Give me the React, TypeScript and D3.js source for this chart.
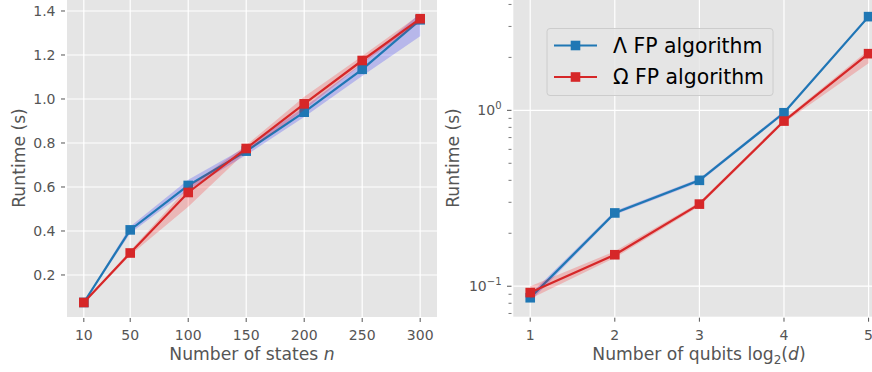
import React from "react";
import * as d3 from "d3";

const statesN = [10, 50, 100, 150, 200, 250, 300];
const lambdaStates = [0.075, 0.405, 0.607, 0.763, 0.94, 1.135, 1.36];
const lambdaStatesLo = [0.07, 0.39, 0.588, 0.745, 0.918, 1.105, 1.285];
const lambdaStatesHi = [0.08, 0.42, 0.633, 0.782, 0.963, 1.163, 1.39];
const omegaStates = [0.075, 0.3, 0.575, 0.775, 0.978, 1.175, 1.365];
const omegaStatesLo = [0.07, 0.29, 0.51, 0.76, 0.95, 1.16, 1.35];
const omegaStatesHi = [0.08, 0.31, 0.6, 0.79, 1.01, 1.195, 1.385];

const qubits = [1, 2, 3, 4, 5];
const lambdaQubits = [0.086, 0.261, 0.4, 0.969, 3.41];
const lambdaQubitsLo = [0.082, 0.255, 0.39, 0.95, 3.35];
const lambdaQubitsHi = [0.09, 0.268, 0.41, 0.99, 3.48];
const omegaQubits = [0.092, 0.151, 0.293, 0.869, 2.1];
const omegaQubitsLo = [0.085, 0.145, 0.285, 0.85, 1.85];
const omegaQubitsHi = [0.1, 0.158, 0.3, 0.89, 2.2];

const leftXTicks = [10, 50, 100, 150, 200, 250, 300];
const leftYTicks = [0.2, 0.4, 0.6, 0.8, 1.0, 1.2, 1.4];
const rightXTicks = [1, 2, 3, 4, 5];
const rightYMajor = [0.1, 1];
const seriesNames = ["Λ FP algorithm", "Ω FP algorithm"];

const BLUE = "#1f77b4";
const RED = "#d62728";
const BG = "#E5E5E5";
const TICK = "#555555";
const FONT = "DejaVu Sans";

type Sc = (v: number) => number;

function Series({ xs, ys, lo, hi, x, y, color, band }: { xs: number[]; ys: number[]; lo: number[]; hi: number[]; x: Sc; y: Sc; color: string; band: string }) {
  const area = d3
    .area<number>()
    .x((_, i) => x(xs[i]))
    .y0((_, i) => y(lo[i]))
    .y1((_, i) => y(hi[i]));
  const line = d3
    .line<number>()
    .x((_, i) => x(xs[i]))
    .y((d) => y(d));
  return (
    <g>
      <path d={area(ys) || ""} fill={band} />
      <path d={line(ys) || ""} fill="none" stroke={color} strokeWidth={2.2} />
      {ys.map((v, i) => (
        <rect key={i} x={x(xs[i]) - 4.8} y={y(v) - 4.8} width={9.6} height={9.6} fill={color} />
      ))}
    </g>
  );
}

export default function App() {
  const lx = d3.scaleLinear().domain([-4.5, 314.5]).range([67, 437]);
  const ly = d3.scaleLinear().domain([0.009, 1.45]).range([317, 0]);
  const rx = d3.scaleLinear().domain([0.8, 5.2]).range([513.3, 885.5]);
  const ry = d3.scaleLog().domain([0.0671, 4.24]).range([316.7, 0]);

  const minor: number[] = [];
  [0.01, 0.1, 1].forEach((dec) => {
    for (let k = 2; k <= 9; k++) {
      const v = dec * k;
      if (v >= 0.0671 && v <= 4.24) minor.push(v);
    }
  });

  const bot = 317;
  return (
    <svg width={872} height={372} style={{ position: "absolute", left: 0, top: 0, background: "white" }} fontFamily={FONT}>
      {/* LEFT PANEL */}
      <rect x={67} y={0} width={370} height={bot} fill={BG} />
      {leftXTicks.map((t) => (
        <line key={"lxg" + t} x1={lx(t)} x2={lx(t)} y1={0} y2={bot} stroke="white" strokeWidth={1.2} />
      ))}
      {leftYTicks.map((t) => (
        <line key={"lyg" + t} x1={67} x2={437} y1={ly(t)} y2={ly(t)} stroke="white" strokeWidth={1.2} />
      ))}
      <Series xs={statesN} ys={lambdaStates} lo={lambdaStatesLo} hi={lambdaStatesHi} x={lx} y={ly} color={BLUE} band="rgba(0,0,255,0.2)" />
      <Series xs={statesN} ys={omegaStates} lo={omegaStatesLo} hi={omegaStatesHi} x={lx} y={ly} color={RED} band="rgba(255,0,0,0.2)" />
      {leftXTicks.map((t) => (
        <g key={"lxt" + t}>
          <line x1={lx(t)} x2={lx(t)} y1={bot + 1} y2={bot + 5} stroke={TICK} strokeWidth={1} />
          <text x={lx(t)} y={339.5} textAnchor="middle" fontSize={14} fill={TICK}>{t}</text>
        </g>
      ))}
      {leftYTicks.map((t) => (
        <g key={"lyt" + t}>
          <line x1={61} x2={65} y1={ly(t)} y2={ly(t)} stroke={TICK} strokeWidth={1} />
          <text x={55.5} y={ly(t) + 5} textAnchor="end" fontSize={14} fill={TICK}>{t.toFixed(1)}</text>
        </g>
      ))}
      <text x={252} y={360} textAnchor="middle" fontSize={17.2} fill={TICK}>
        Number of states <tspan fontStyle="italic">n</tspan>
      </text>
      <text transform={`translate(24.5,158) rotate(-90)`} textAnchor="middle" fontSize={17.2} fill={TICK}>Runtime (s)</text>

      {/* RIGHT PANEL */}
      <rect x={513.3} y={0} width={372.2} height={316.7} fill={BG} />
      {rightXTicks.map((t) => (
        <line key={"rxg" + t} x1={rx(t)} x2={rx(t)} y1={0} y2={316.7} stroke="white" strokeWidth={1.2} />
      ))}
      {rightYMajor.map((t) => (
        <line key={"ryg" + t} x1={513.3} x2={885.5} y1={ry(t)} y2={ry(t)} stroke="white" strokeWidth={1.2} />
      ))}
      <Series xs={qubits} ys={lambdaQubits} lo={lambdaQubitsLo} hi={lambdaQubitsHi} x={rx} y={ry} color={BLUE} band="rgba(0,0,255,0.2)" />
      <Series xs={qubits} ys={omegaQubits} lo={omegaQubitsLo} hi={omegaQubitsHi} x={rx} y={ry} color={RED} band="rgba(255,0,0,0.2)" />
      {rightXTicks.map((t) => (
        <g key={"rxt" + t}>
          <line x1={rx(t)} x2={rx(t)} y1={317.7} y2={321.7} stroke={TICK} strokeWidth={1} />
          <text x={rx(t)} y={339.5} textAnchor="middle" fontSize={14} fill={TICK}>{t}</text>
        </g>
      ))}
      {minor.map((t) => (
        <line key={"rmn" + t} x1={508.5} x2={511.5} y1={ry(t)} y2={ry(t)} stroke={TICK} strokeWidth={0.8} />
      ))}
      {rightYMajor.map((t) => (
        <g key={"ryt" + t}>
          <line x1={507} x2={511.5} y1={ry(t)} y2={ry(t)} stroke={TICK} strokeWidth={1} />
          <text x={501.5} y={ry(t) + 5} textAnchor="end" fontSize={14} fill={TICK}>
            10<tspan dy={-6} fontSize={10}>{t === 1 ? "0" : "−1"}</tspan>
          </text>
        </g>
      ))}
      <text x={699} y={360} textAnchor="middle" fontSize={17.2} fill={TICK}>
        Number of qubits log<tspan dy={4} fontSize={12}>2</tspan><tspan dy={-4}>(</tspan><tspan fontStyle="italic">d</tspan>)
      </text>
      <text transform={`translate(459,158) rotate(-90)`} textAnchor="middle" fontSize={17.2} fill={TICK}>Runtime (s)</text>

      {/* LEGEND */}
      <rect x={547} y={28.5} width={226} height={67} rx={3} fill={BG} fillOpacity={0.8} stroke="#CCCCCC" strokeWidth={1} />
      {seriesNames.map((name, i) => {
        const yy = 45.5 + i * 31.5;
        const c = i === 0 ? BLUE : RED;
        return (
          <g key={name}>
            <line x1={554} x2={597} y1={yy} y2={yy} stroke={c} strokeWidth={2.2} />
            <rect x={575.5 - 4.8} y={yy - 4.8} width={9.6} height={9.6} fill={c} />
            <text x={613} y={yy + 7.2} fontSize={20.4} fill="black">{name}</text>
          </g>
        );
      })}
    </svg>
  );
}
